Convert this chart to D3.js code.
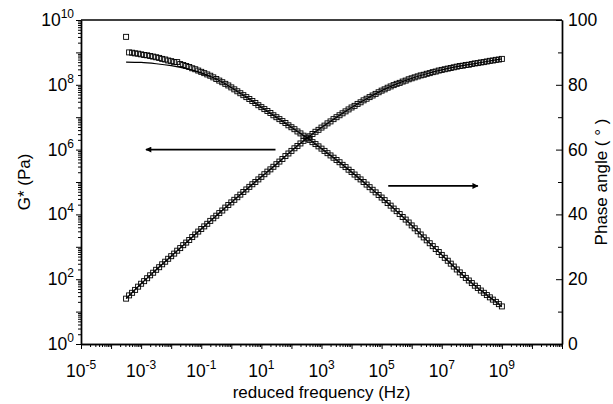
<!DOCTYPE html>
<html>
<head>
<meta charset="utf-8">
<script src="https://cdn.jsdelivr.net/npm/d3@7"></script>
<style>
body { margin: 0; background: #fff; }
text { font-family: "Liberation Sans", Arial, sans-serif; fill: #000; }
.axis .domain { stroke: #000; stroke-width: 1.4; }
.axis .tick line { stroke: #000; stroke-width: 1; }
</style>
</head>
<body>
<div id="chart"></div>
<script>
// reduced frequency, as log10(Hz), shared by both measured series
var freqExp = [-3.5,-3.4,-3.3,-3.2,-3.1,-3.0,-2.9,-2.8,-2.7,-2.6,-2.5,-2.4,-2.3,-2.2,-2.1,
  -2.0,-1.9,-1.8,-1.7,-1.6,-1.5,-1.4,-1.3,-1.2,-1.1,-1.0,-0.9,-0.8,-0.7,-0.6,-0.5,-0.4,-0.3,
  -0.2,-0.1,0.0,0.1,0.2,0.3,0.4,0.5,0.6,0.7,0.8,0.9,1.0,1.1,1.2,1.3,1.4,1.5,1.6,1.7,1.8,1.9,
  2.0,2.1,2.2,2.3,2.4,2.5,2.6,2.7,2.8,2.9,3.0,3.1,3.2,3.3,3.4,3.5,3.6,3.7,3.8,3.9,4.0,4.1,
  4.2,4.3,4.4,4.5,4.6,4.7,4.8,4.9,5.0,5.1,5.2,5.3,5.4,5.5,5.6,5.7,5.8,5.9,6.0,6.1,6.2,6.3,
  6.4,6.5,6.6,6.7,6.8,6.9,7.0,7.1,7.2,7.3,7.4,7.5,7.6,7.7,7.8,7.9,8.0,8.1,8.2,8.3,8.4,8.5,
  8.6,8.7,8.8,8.9,9.0];

// G* as log10(Pa)
var gstarExp = [1.40,1.50,1.58,1.67,1.77,1.86,1.94,2.03,2.12,2.20,2.29,2.37,2.46,2.54,2.63,
  2.71,2.79,2.88,2.96,3.05,3.13,3.21,3.30,3.38,3.47,3.55,3.63,3.71,3.80,3.88,3.96,4.04,4.12,
  4.21,4.29,4.37,4.45,4.53,4.61,4.69,4.77,4.85,4.93,5.00,5.08,5.16,5.24,5.32,5.39,5.47,5.55,
  5.63,5.71,5.80,5.88,5.96,6.04,6.11,6.19,6.27,6.34,6.41,6.48,6.55,6.61,6.68,6.74,6.81,6.87,
  6.94,7.00,7.06,7.12,7.18,7.24,7.30,7.35,7.41,7.46,7.52,7.57,7.62,7.67,7.72,7.77,7.82,7.86,
  7.91,7.95,7.99,8.03,8.06,8.10,8.13,8.17,8.20,8.23,8.26,8.29,8.31,8.34,8.36,8.39,8.41,8.44,
  8.46,8.48,8.50,8.52,8.54,8.56,8.58,8.59,8.61,8.62,8.64,8.66,8.67,8.69,8.70,8.72,8.74,8.75,
  8.77,8.78,8.80];

// phase angle, degrees
var phase = [94.8,90.0,89.9,89.7,89.6,89.4,89.2,89.1,88.9,88.7,88.5,88.3,88.0,87.8,87.5,
  87.3,87.0,87.0,86.4,86.1,85.8,85.5,85.1,84.8,84.4,84.0,83.6,83.2,82.8,82.3,81.8,81.3,80.8,
  80.3,79.8,79.2,78.6,78.0,77.4,76.8,76.2,75.6,75.0,74.4,73.7,73.1,72.5,71.9,71.3,70.6,70.0,
  69.4,68.8,68.2,67.5,66.9,66.3,65.6,65.0,64.3,63.7,63.0,62.3,61.7,61.0,60.3,59.6,58.9,58.2,
  57.5,56.8,56.1,55.3,54.6,53.8,53.1,52.3,51.5,50.8,50.0,49.2,48.4,47.6,46.8,46.0,45.2,44.4,
  43.5,42.7,41.8,41.0,40.1,39.2,38.4,37.5,36.6,35.7,34.8,33.8,32.9,32.0,31.1,30.2,29.3,28.4,
  27.5,26.6,25.7,24.8,23.9,23.0,22.1,21.3,20.4,19.6,18.8,18.0,17.3,16.5,15.8,15.1,14.4,13.7,
  13.0,12.3,11.6];

// model (solid lines)
var fitFreqExp = [-3.5,-3.0,-2.5,-2.0,-1.5,-1.0,-0.5,0.0,0.5,1.0,1.5,2.0,2.5,3.0,3.5,4.0,
  4.5,5.0,5.5,6.0,6.5,7.0,7.5,8.0,8.5,9.0];
var fitGstarExp = [1.40,1.86,2.29,2.71,3.13,3.55,3.96,4.37,4.77,5.16,5.55,5.96,6.34,6.68,
  7.00,7.30,7.57,7.82,8.03,8.20,8.34,8.46,8.56,8.64,8.72,8.80];
var fitPhase = [87.0,86.9,86.5,85.9,85.0,83.7,81.8,79.2,76.2,73.1,70.0,66.9,63.7,60.3,56.8,
  53.1,49.2,45.2,41.0,36.6,32.0,27.5,23.0,18.8,15.1,11.6];

// tick labels
var xLabelExp = [-5, -3, -1, 1, 3, 5, 7, 9];
var yLabelExp = [0, 2, 4, 6, 8, 10];
var phaseTicks = [0, 20, 40, 60, 80, 100];

// arrows: [freq exp from, freq exp to, value]
var arrowG = [1.47, -2.84, 6];
var arrowPhase = [5.22, 8.2, 48.8];

var W = 613, H = 404;
var mLeft = 81, mRight = 562, mTop = 20, mBottom = 344;

var svg = d3.select("#chart").append("svg")
    .attr("width", W)
    .attr("height", H);

var x = d3.scaleLog().domain([1e-5, 1e11]).range([mLeft, mRight]);
var yG = d3.scaleLog().domain([1, 1e10]).range([mBottom, mTop]);
var yP = d3.scaleLinear().domain([0, 100]).range([mBottom, mTop]);

// decade and minor ticks
var decades = d3.range(-5, 12).map(function(e) { return Math.pow(10, e); });
var minorX = [];
d3.range(-5, 11).forEach(function(e) {
    for (var m = 2; m <= 9; m++) minorX.push(m * Math.pow(10, e));
});
var decadesY = d3.range(0, 11).map(function(e) { return Math.pow(10, e); });
var minorY = [];
d3.range(0, 10).forEach(function(e) {
    for (var m = 2; m <= 9; m++) minorY.push(m * Math.pow(10, e));
});

// bottom axis
svg.append("g").attr("class", "axis")
    .attr("transform", "translate(0," + mBottom + ")")
    .call(d3.axisBottom(x).tickValues(minorX).tickSize(3).tickSizeOuter(0).tickFormat(""));
svg.append("g").attr("class", "axis")
    .attr("transform", "translate(0," + mBottom + ")")
    .call(d3.axisBottom(x).tickValues(decades).tickSize(5).tickSizeOuter(0).tickFormat(""));

// left axis
svg.append("g").attr("class", "axis")
    .attr("transform", "translate(" + mLeft + ",0)")
    .call(d3.axisLeft(yG).tickValues(minorY).tickSize(3).tickSizeOuter(0).tickFormat(""));
svg.append("g").attr("class", "axis")
    .attr("transform", "translate(" + mLeft + ",0)")
    .call(d3.axisLeft(yG).tickValues(decadesY).tickSize(5).tickSizeOuter(0).tickFormat(""));

// right axis, ticks pointing inward
svg.append("g").attr("class", "axis")
    .attr("transform", "translate(" + mRight + ",0)")
    .call(d3.axisLeft(yP).tickValues(d3.range(10, 100, 20)).tickSize(4).tickSizeOuter(0).tickFormat(""));
svg.append("g").attr("class", "axis")
    .attr("transform", "translate(" + mRight + ",0)")
    .call(d3.axisLeft(yP).tickValues(phaseTicks).tickSize(6).tickSizeOuter(0).tickFormat(""));

// top frame line
svg.append("line")
    .attr("x1", mLeft).attr("x2", mRight)
    .attr("y1", mTop).attr("y2", mTop)
    .attr("stroke", "#000").attr("stroke-width", 1.4);

// tick labels with superscripts
function powLabel(t, e) {
    t.append("tspan").text("10");
    t.append("tspan").attr("dy", -8).attr("font-size", 12).text(e);
}

svg.selectAll(".xlab")
    .data(xLabelExp)
    .enter()
    .append("text")
    .attr("class", "xlab")
    .attr("x", function(d) { return x(Math.pow(10, d)); })
    .attr("y", 377)
    .attr("text-anchor", "middle")
    .attr("font-size", 17.5)
    .each(function(d) { powLabel(d3.select(this), d); });

svg.selectAll(".ylab")
    .data(yLabelExp)
    .enter()
    .append("text")
    .attr("class", "ylab")
    .attr("x", 74)
    .attr("y", function(d) { return yG(Math.pow(10, d)) + 6; })
    .attr("text-anchor", "end")
    .attr("font-size", 17.5)
    .each(function(d) { powLabel(d3.select(this), d); });

svg.selectAll(".plab")
    .data(phaseTicks)
    .enter()
    .append("text")
    .attr("class", "plab")
    .attr("x", 568)
    .attr("y", function(d) { return yP(d) + 6; })
    .attr("font-size", 17.5)
    .text(function(d) { return d; });

// axis titles
svg.append("text")
    .attr("x", (mLeft + mRight) / 2)
    .attr("y", 398)
    .attr("text-anchor", "middle")
    .attr("font-size", 17)
    .text("reduced frequency (Hz)");

svg.append("text")
    .attr("transform", "translate(30," + (mTop + mBottom) / 2 + ") rotate(-90)")
    .attr("text-anchor", "middle")
    .attr("font-size", 17)
    .text("G* (Pa)");

svg.append("text")
    .attr("transform", "translate(607," + (mTop + mBottom) / 2 + ") rotate(-90)")
    .attr("text-anchor", "middle")
    .attr("font-size", 17)
    .text("Phase angle ( \u00b0 )");

// measured points (open squares)
var pts = freqExp.map(function(e, i) {
    return { f: Math.pow(10, e), g: Math.pow(10, gstarExp[i]), p: phase[i] };
});
var s = 5;

svg.selectAll(".gsq")
    .data(pts)
    .enter()
    .append("rect")
    .attr("class", "gsq")
    .attr("x", function(d) { return x(d.f) - s / 2; })
    .attr("y", function(d) { return yG(d.g) - s / 2; })
    .attr("width", s).attr("height", s)
    .attr("fill", "none").attr("stroke", "#000").attr("stroke-width", 0.9);

svg.selectAll(".psq")
    .data(pts)
    .enter()
    .append("rect")
    .attr("class", "psq")
    .attr("x", function(d) { return x(d.f) - s / 2; })
    .attr("y", function(d) { return yP(d.p) - s / 2; })
    .attr("width", s).attr("height", s)
    .attr("fill", "none").attr("stroke", "#000").attr("stroke-width", 0.9);

// model lines
var fit = fitFreqExp.map(function(e, i) {
    return { f: Math.pow(10, e), g: Math.pow(10, fitGstarExp[i]), p: fitPhase[i] };
});
svg.append("path")
    .datum(fit)
    .attr("fill", "none").attr("stroke", "#000").attr("stroke-width", 1.2)
    .attr("d", d3.line().curve(d3.curveMonotoneX)
        .x(function(d) { return x(d.f); })
        .y(function(d) { return yG(d.g); }));
svg.append("path")
    .datum(fit)
    .attr("fill", "none").attr("stroke", "#000").attr("stroke-width", 1.2)
    .attr("d", d3.line().curve(d3.curveMonotoneX)
        .x(function(d) { return x(d.f); })
        .y(function(d) { return yP(d.p); }));

// arrows
svg.append("defs").append("marker")
    .attr("id", "head")
    .attr("viewBox", "0 0 10 10")
    .attr("refX", 9).attr("refY", 5)
    .attr("markerWidth", 8).attr("markerHeight", 6)
    .attr("markerUnits", "userSpaceOnUse")
    .attr("orient", "auto")
    .append("path")
    .attr("d", "M0,0L10,5L0,10Z")
    .attr("fill", "#000");

svg.append("line")
    .attr("x1", x(Math.pow(10, arrowG[0]))).attr("x2", x(Math.pow(10, arrowG[1])))
    .attr("y1", yG(Math.pow(10, arrowG[2]))).attr("y2", yG(Math.pow(10, arrowG[2])))
    .attr("stroke", "#000").attr("stroke-width", 1.6)
    .attr("marker-end", "url(#head)");

svg.append("line")
    .attr("x1", x(Math.pow(10, arrowPhase[0]))).attr("x2", x(Math.pow(10, arrowPhase[1])))
    .attr("y1", yP(arrowPhase[2])).attr("y2", yP(arrowPhase[2]))
    .attr("stroke", "#000").attr("stroke-width", 1.6)
    .attr("marker-end", "url(#head)");
</script>
</body>
</html>
